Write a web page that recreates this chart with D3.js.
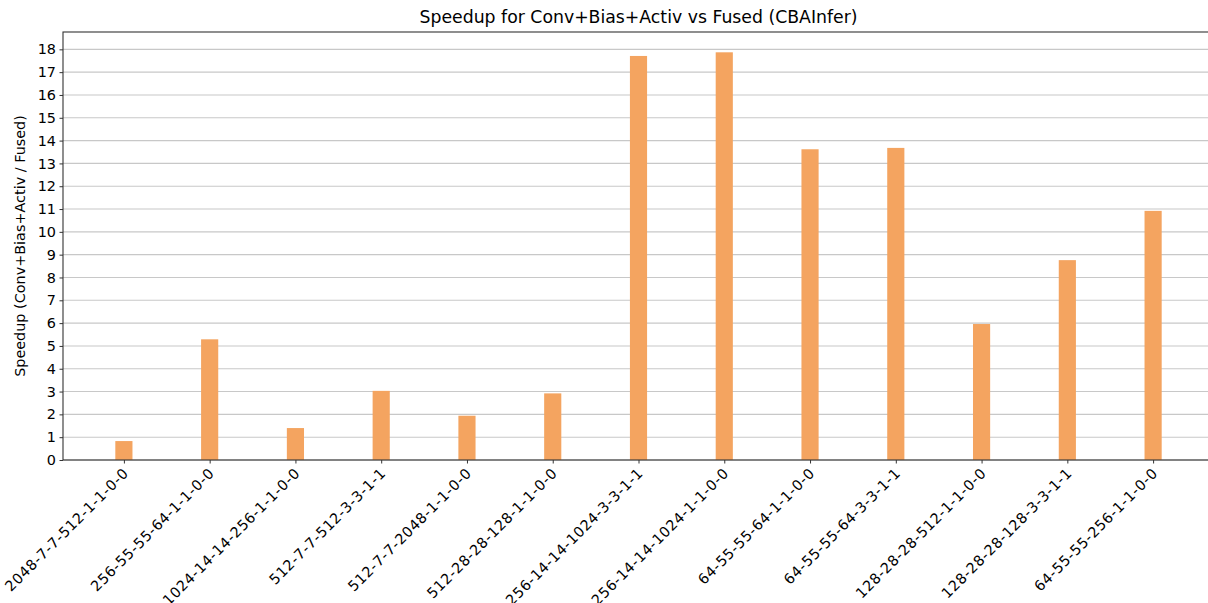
<!DOCTYPE html>
<html>
<head>
<meta charset="utf-8">
<script src="https://cdn.jsdelivr.net/npm/d3@7"></script>
<style>
  body { margin: 0; background: #fff; }
  svg { font-family: "DejaVu Sans", sans-serif; }
</style>
</head>
<body>
<div id="chart"></div>
<script>
// ============================================================================
// data
// ============================================================================

const configs = [
    "2048-7-7-512-1-1-0-0", "256-55-55-64-1-1-0-0", "1024-14-14-256-1-1-0-0",
    "512-7-7-512-3-3-1-1", "512-7-7-2048-1-1-0-0", "512-28-28-128-1-1-0-0",
    "256-14-14-1024-3-3-1-1", "256-14-14-1024-1-1-0-0", "64-55-55-64-1-1-0-0",
    "64-55-55-64-3-3-1-1", "128-28-28-512-1-1-0-0", "128-28-28-128-3-3-1-1",
    "64-55-55-256-1-1-0-0"
];
const speedups = [0.83, 5.29, 1.40, 3.03, 1.94, 2.92, 17.71, 17.87, 13.62, 13.68, 5.96, 8.76, 10.92];
const yTicks = d3.range(0, 19);

// ============================================================================
// layout
// ============================================================================

const width = 1208, height = 603;
const m = { left: 63, right: 1214, top: 32, bottom: 460 };
const barWidth = 0.2;
const tickFont = 14.4;

const svg = d3.select("#chart").append("svg")
    .attr("width", width)
    .attr("height", height);

const x = d3.scaleLinear()
    .domain([-0.71, configs.length - 1 + 0.71])
    .range([m.left, m.right]);

const y = d3.scaleLinear()
    .domain([0, 18.76])
    .range([m.bottom, m.top]);

// grid
svg.append("g")
    .selectAll("line")
    .data(yTicks)
    .join("line")
    .attr("x1", m.left).attr("x2", m.right)
    .attr("y1", d => y(d)).attr("y2", d => y(d))
    .attr("stroke", "#c8c8c8")
    .attr("stroke-width", 1.1);

// bars
svg.append("g")
    .selectAll("rect")
    .data(speedups)
    .join("rect")
    .attr("x", (d, i) => x(i - barWidth / 2))
    .attr("width", x(barWidth) - x(0))
    .attr("y", d => y(d))
    .attr("height", d => y(0) - y(d))
    .attr("fill", "#f4a460");

// y axis
const yAxis = svg.append("g")
    .attr("transform", `translate(${m.left},0)`)
    .call(d3.axisLeft(y).tickValues(yTicks).tickSize(3.5).tickPadding(3.5));
yAxis.select(".domain").remove();
yAxis.selectAll("line").attr("stroke", "#333");
yAxis.selectAll("text").attr("font-size", tickFont).attr("fill", "#000")
    .attr("font-family", "DejaVu Sans");

// x axis
const xAxis = svg.append("g")
    .attr("transform", `translate(0,${m.bottom})`)
    .call(d3.axisBottom(x).tickValues(d3.range(configs.length))
        .tickFormat(i => configs[i]).tickSize(3.5));
xAxis.select(".domain").remove();
xAxis.selectAll("line").attr("stroke", "#333");
xAxis.selectAll("text")
    .attr("font-size", tickFont)
    .attr("letter-spacing", 0.6)
    .attr("fill", "#000")
    .attr("font-family", "DejaVu Sans")
    .attr("text-anchor", "end")
    .attr("dy", 0)
    .attr("y", 0)
    .attr("transform", "translate(5,14) rotate(-45)");

// frame
svg.append("rect")
    .attr("x", m.left).attr("y", m.top)
    .attr("width", m.right - m.left).attr("height", m.bottom - m.top)
    .attr("fill", "none")
    .attr("stroke", "#333")
    .attr("stroke-width", 1.1);

// title
svg.append("text")
    .attr("x", (m.left + m.right) / 2)
    .attr("y", 23)
    .attr("text-anchor", "middle")
    .attr("font-size", 17.3)
    .text("Speedup for Conv+Bias+Activ vs Fused (CBAInfer)");

// y label
svg.append("text")
    .attr("transform", `translate(25,${(m.top + m.bottom) / 2}) rotate(-90)`)
    .attr("text-anchor", "middle")
    .attr("font-size", tickFont)
    .text("Speedup (Conv+Bias+Activ / Fused)");
</script>
</body>
</html>
